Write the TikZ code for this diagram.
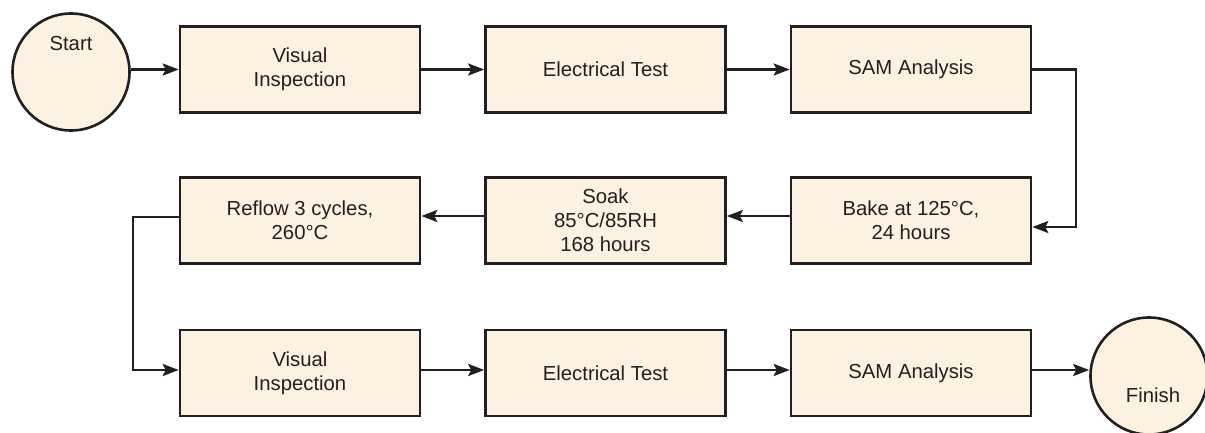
\documentclass[tikz,border=0pt]{standalone}
\usepackage{fontspec}
\setmainfont{Liberation Sans}
\usetikzlibrary{arrows.meta}
\definecolor{boxfill}{HTML}{FDF1E2}
\definecolor{ink}{HTML}{231F20}
\begin{document}
\begin{tikzpicture}[x=1pt,y=-1pt,
  txt/.style={text=ink, font=\fontsize{20.3}{24}\selectfont},
  proc/.style={txt, draw=ink, line width=2.6pt, fill=boxfill, minimum width=240pt, minimum height=86pt, inner sep=0pt, align=center},
  term/.style={circle, draw=ink, line width=2.6pt, fill=boxfill, minimum size=117pt, inner sep=0pt},
  flow/.style={draw=ink, line width=2.4pt, -{Stealth[length=16pt,width=12pt,inset=3pt]}}
]
\useasboundingbox (0,0) rectangle (1205,433);
\node[term, label={[txt, yshift=28pt]center:Start}] (start) at (71,72) {};
\node[proc] (vi1) at (300,69.5) {Visual\\Inspection};
\node[proc] (et1) at (605.5,69.5) {Electrical Test};
\node[proc] (sam1) at (911,69.5) {SAM Analysis};
\node[proc] (bake) at (911,220.5) {Bake at 125°C,\\24 hours};
\node[proc] (soak) at (605.5,220.5) {Soak\\85°C/85RH\\168 hours};
\node[proc] (reflow) at (300,220.5) {Reflow 3 cycles,\\260°C};
\node[proc] (vi2) at (300,373) {Visual\\Inspection};
\node[proc] (et2) at (605.5,373) {Electrical Test};
\node[proc] (sam2) at (911,373) {SAM Analysis};
\node[term, label={[txt, xshift=4pt, yshift=-19pt]center:Finish}] (finish) at (1149,376) {};
\coordinate (turnA) at (1076,0);
\coordinate (turnB) at (133,0);
\draw[flow] (vi1.west -| start.east) -- (vi1.west);
\draw[flow] (vi1) -- (et1);
\draw[flow] (et1) -- (sam1);
\draw[flow] (sam1.east) -- (sam1.east -| turnA) |- ([yshift=-6.5pt]bake.east);
\draw[flow] ([yshift=4.5pt]bake.west) -- ([yshift=4.5pt]soak.east);
\draw[flow] ([yshift=4.5pt]soak.west) -- ([yshift=4.5pt]reflow.east);
\draw[flow] ([yshift=3.5pt]reflow.west) -- ([yshift=3.5pt]reflow.west -| turnB) |- ([yshift=3pt]vi2.west);
\draw[flow] ([yshift=3pt]vi2.east) -- ([yshift=3pt]et2.west);
\draw[flow] ([yshift=3pt]et2.east) -- ([yshift=3pt]sam2.west);
\draw[flow] ([yshift=3pt]sam2.east) -- ([yshift=3pt]sam2.east -| finish.west);
\end{tikzpicture}
\end{document}
